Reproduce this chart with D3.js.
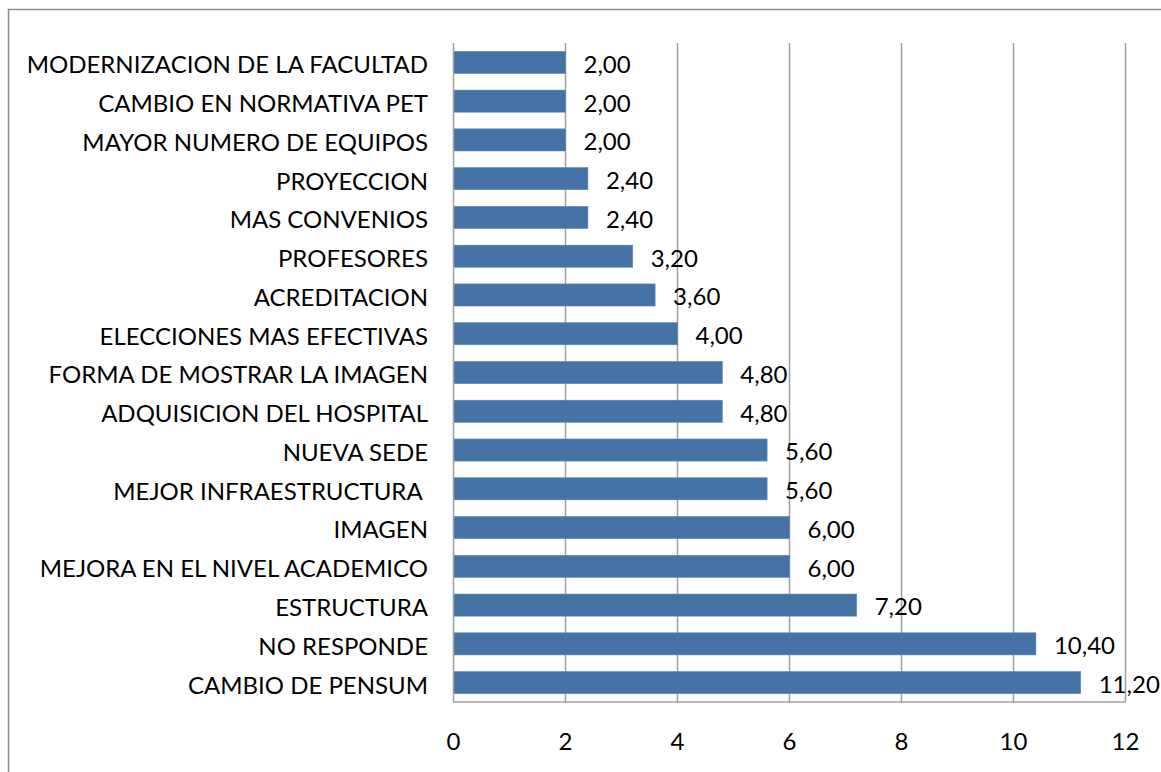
<!DOCTYPE html>
<html><head><meta charset="utf-8">
<script src="https://cdn.jsdelivr.net/npm/d3@7"></script>
<style>html,body{margin:0;padding:0;background:#fff;}svg{display:block;}</style>
</head><body>
<script>
const categories = ["MODERNIZACION DE LA FACULTAD","CAMBIO EN NORMATIVA PET","MAYOR NUMERO DE EQUIPOS","PROYECCION","MAS CONVENIOS","PROFESORES","ACREDITACION","ELECCIONES MAS EFECTIVAS","FORMA DE MOSTRAR LA IMAGEN","ADQUISICION DEL HOSPITAL","NUEVA SEDE","MEJOR INFRAESTRUCTURA ","IMAGEN","MEJORA EN EL NIVEL ACADEMICO","ESTRUCTURA","NO RESPONDE","CAMBIO DE PENSUM"];
const values = [2.00,2.00,2.00,2.40,2.40,3.20,3.60,4.00,4.80,4.80,5.60,5.60,6.00,6.00,7.20,10.40,11.20];
const xTicks = [0,2,4,6,8,10,12];

(function(){
const W = 1161, H = 772;
const svg = d3.select("body").append("svg").attr("width", W).attr("height", H);
const font = "Lato, 'Open Sans', sans-serif";
const fs = 24;

svg.append("path").attr("d", `M8.5,${H} L8.5,9.5 L${W},9.5`).attr("fill","none").attr("stroke","#8c8c8c").attr("stroke-width",1.5);

const pL = 453.5, pR = 1125.5, pT = 43, pB = 702;
const x = d3.scaleLinear().domain([0,12]).range([pL,pR]);
const y = d3.scaleBand().domain(categories).range([pT,pB]).paddingInner(0.43).paddingOuter(0.215);

svg.append("g").selectAll("line").data(xTicks.slice(1)).join("line")
  .attr("x1", d=>x(d)).attr("x2", d=>x(d)).attr("y1", pT).attr("y2", pB)
  .attr("stroke","#a0a0a0").attr("stroke-width",1.5);

svg.append("g").selectAll("rect").data(values).join("rect")
  .attr("x", x(0)).attr("y", (d,i)=>y(categories[i]))
  .attr("width", d=>x(d)-x(0)).attr("height", y.bandwidth())
  .attr("fill","#4573a6").attr("stroke","#5b87b8").attr("stroke-width",0.6);

svg.append("line").attr("x1",pL).attr("x2",pL).attr("y1",pT).attr("y2",pB).attr("stroke","#a0a0a0").attr("stroke-width",1.5);
svg.append("line").attr("x1",pL).attr("x2",pR).attr("y1",pB).attr("y2",pB).attr("stroke","#a0a0a0").attr("stroke-width",1.5);

svg.append("g").selectAll("text").data(categories).join("text")
  .attr("x", 428).attr("y", d=>y(d)+y.bandwidth()/2+2.5).attr("dy","0.35em")
  .attr("text-anchor","end").attr("font-family",font).attr("font-size",fs).attr("fill","#000")
  .attr("xml:space","preserve").text(d=>d);

svg.append("g").selectAll("text").data(values).join("text")
  .attr("x", d=>x(d)+18).attr("y", (d,i)=>y(categories[i])+y.bandwidth()/2+2).attr("dy","0.35em")
  .attr("font-family",font).attr("font-size",fs).attr("fill","#000")
  .text(d=>d.toFixed(2).replace(".",","));

svg.append("g").selectAll("text").data(xTicks).join("text")
  .attr("x", d=>x(d)).attr("y", 742).attr("dy","0.35em").attr("text-anchor","middle")
  .attr("font-family",font).attr("font-size",fs).attr("fill","#000")
  .text(d=>d);
})();
</script>
</body></html>
